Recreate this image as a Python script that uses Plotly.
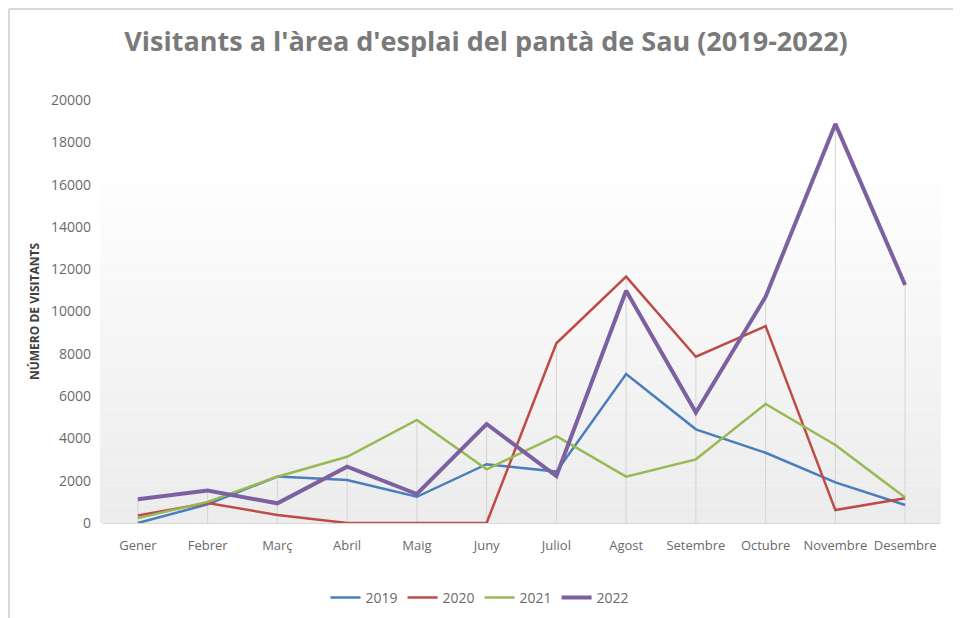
import plotly.graph_objects as go

months = ["Gener", "Febrer", "Març", "Abril", "Maig", "Juny", "Juliol",
          "Agost", "Setembre", "Octubre", "Novembre", "Desembre"]
v2019 = [0, 880, 2200, 2030, 1240, 2780, 2430, 7040, 4430, 3320, 1920, 850]
v2020 = [350, 950, 380, 0, 0, 0, 8500, 11650, 7860, 9310, 610, 1170]
v2021 = [230, 1000, 2190, 3130, 4870, 2540, 4110, 2190, 3010, 5630, 3690, 1200]
v2022 = [1120, 1530, 930, 2660, 1370, 4680, 2220, 10980, 5220, 10700, 18870, 11250]

series = [("2019", v2019, "#4A7EBB", 2.5),
          ("2020", v2020, "#BE4B48", 2.5),
          ("2021", v2021, "#98B954", 2.5),
          ("2022", v2022, "#7D60A0", 4)]

W, H = 961, 618
OFF = 8  # page body margin
# target plot area in screen pixels: x 103..940, y 100..523
L, T = 103 - OFF, 100 - OFF
R = W - (940 - OFF)
B = H - (523 - OFF)
pw, ph = W - L - R, H - T - B

def px2x(px):
    return (px - OFF - L) / pw

def px2y(py):
    return (H - B - (py - OFF)) / ph

fig = go.Figure()

# drop lines from highest value at each month to the axis
maxes = [max(vals) for vals in zip(v2019, v2020, v2021, v2022)]
dx, dy = [], []
for m, mv in zip(months, maxes):
    dx += [m, m, None]
    dy += [0, mv, None]
fig.add_trace(go.Scatter(x=dx, y=dy, mode="lines",
                         line=dict(color="#d4d4d4", width=1),
                         showlegend=False, hoverinfo="skip"))

for name, vals, color, w in series:
    fig.add_trace(go.Scatter(x=months, y=vals, mode="lines", name=name,
                             line=dict(color=color, width=w)))

shapes = []
# gradient plot-area background
n = 40
top = px2y(148)
for i in range(n):
    t = i / (n - 1)
    c = int(round(236 + (255 - 236) * t))
    shapes.append(dict(type="rect", xref="paper", yref="paper",
                       x0=px2x(100), x1=px2x(941),
                       y0=top * i / n, y1=top * (i + 1) / n,
                       fillcolor=f"rgb({c},{c},{c})", line=dict(width=0),
                       layer="below"))
# outer chart border (left and top)
shapes.append(dict(type="line", xref="paper", yref="paper",
                   x0=px2x(9), x1=px2x(9), y0=px2y(9), y1=px2y(630),
                   line=dict(color="#d9d9d9", width=2)))
shapes.append(dict(type="line", xref="paper", yref="paper",
                   x0=px2x(9), x1=px2x(975), y0=px2y(9), y1=px2y(9),
                   line=dict(color="#d9d9d9", width=2)))

fig.update_layout(
    width=W, height=H,
    margin=dict(l=L, r=R, t=T, b=B, autoexpand=False),
    paper_bgcolor="white", plot_bgcolor="white",
    shapes=shapes,
    title=dict(text="<b>Visitants a l'àrea d'esplai del pantà de Sau (2019-2022)</b>",
               x=px2x(486), xref="paper", xanchor="center",
               y=1 - (42 - OFF) / H, yref="container", yanchor="middle",
               font=dict(family="Open Sans, sans-serif",
                         size=27, color="#7a7a7a")),
    xaxis=dict(type="category", range=[-0.5, 11.5], showgrid=False,
               showline=True, linecolor="#d9d9d9", linewidth=1, ticks="",
               tickangle=0, automargin=False, ticklabelstandoff=10,
               tickfont=dict(family="Open Sans", size=13, color="#6a6a6a"),
               fixedrange=True),
    yaxis=dict(range=[0, 20000], dtick=2000, showgrid=False, zeroline=False,
               showline=False, ticks="", tickformat="d", automargin=False,
               ticklabelstandoff=11,
               tickfont=dict(family="Open Sans", size=14, color="#6a6a6a"),
               title=dict(text="<b>NÚMERO DE VISITANTS</b>",
                          font=dict(family="Open Sans", size=12, color="#404040"),
                          standoff=8)),
    legend=dict(orientation="h", x=px2x(480), xanchor="center",
                y=px2y(598), yanchor="middle",
                font=dict(family="Open Sans", size=14, color="#6a6a6a"),
                itemwidth=30, bgcolor="rgba(0,0,0,0)"),
    showlegend=True,
)

fig.write_html("out.html")
